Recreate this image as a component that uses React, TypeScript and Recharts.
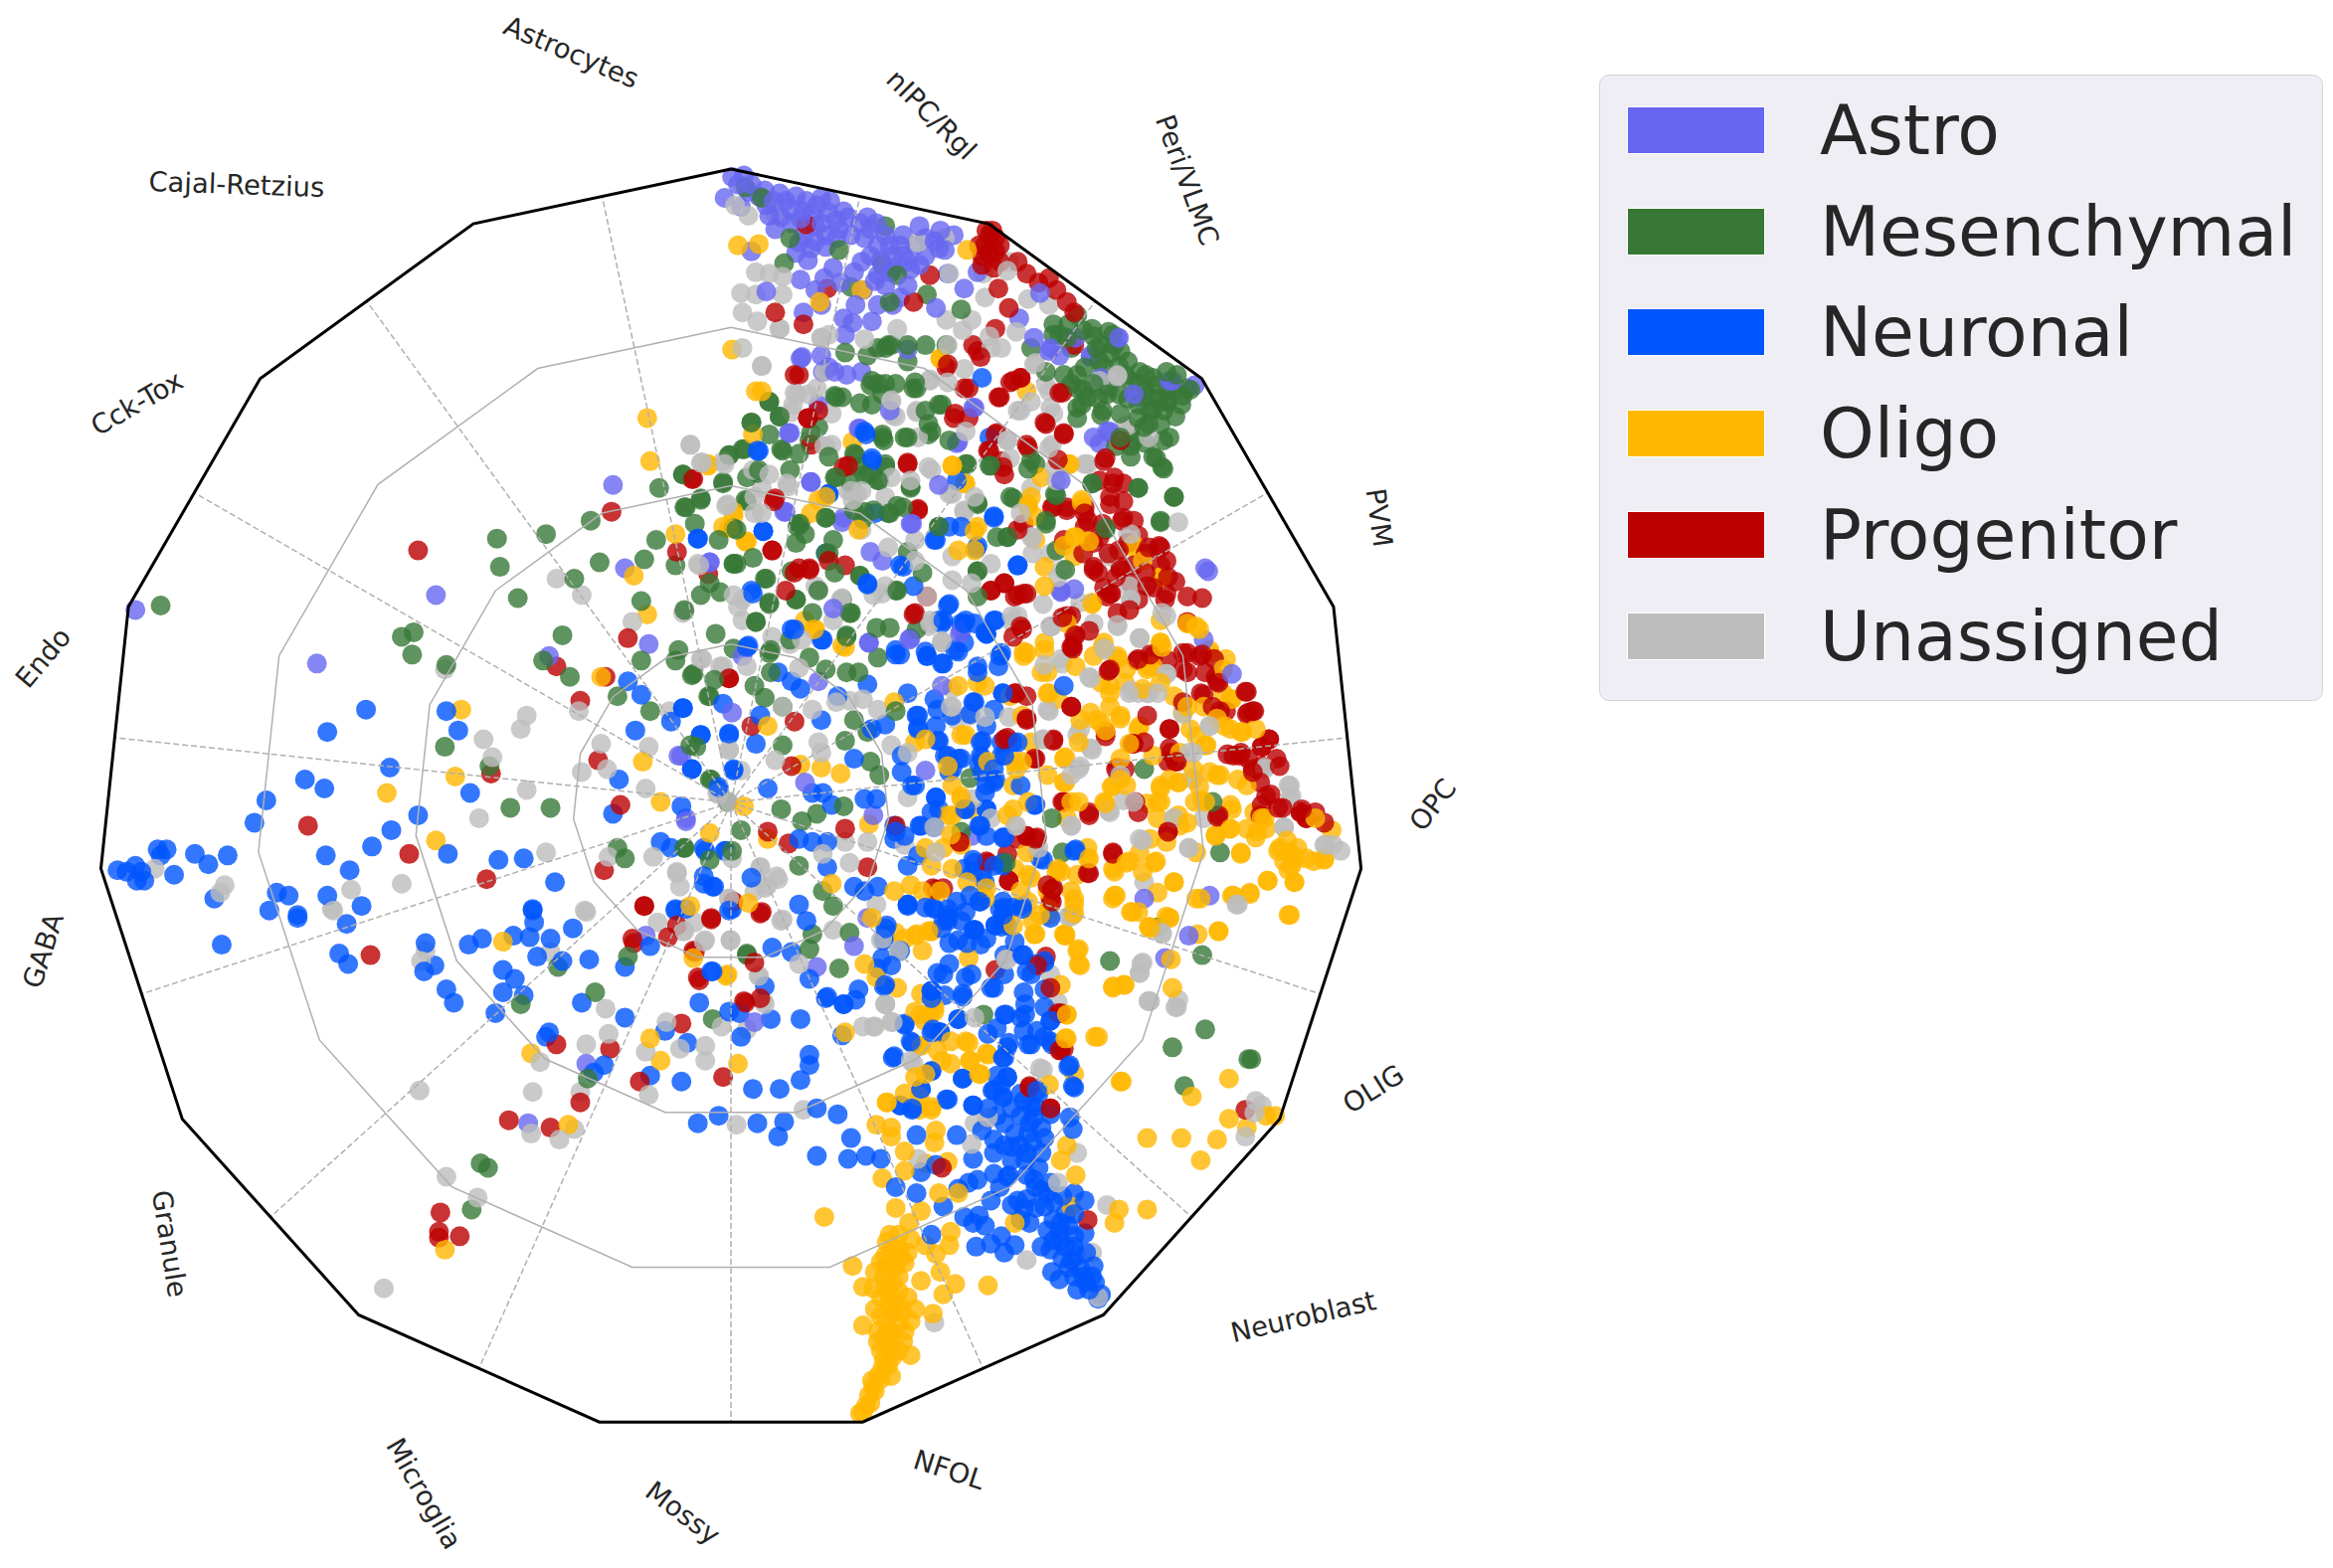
import React from 'react';
import { ScatterChart, Scatter, XAxis, YAxis, Legend } from 'recharts';

const axisNames = ['nIPC/Rgl','Peri/VLMC','PVM','OPC','OLIG','Neuroblast','NFOL','Mossy','Microglia','Granule','GABA','Endo','Cck-Tox','Cajal-Retzius','Astrocytes'];
const labelX = [626,798,927,963,923,876,638,459,285,114,29,29,92,159,384];
const labelY = [77,121,348,541,732,885,988,1017,1004,836,639,442,271,124,35];
const labelTilt = [45,70,82,-52,-32,-13,18,37,60,81,-72,-50,-30,2,23];
const groupNames = ['Astro','Mesenchymal','Neuronal','Oligo','Progenitor','Unassigned'];
const groupColors = ['#6666f0','#377837','#0055ff','#ffb700','#bb0000','#bdbdbd'];

const astro = [91,410,293,400,213,446,412,326,420,382,436,433,369,441,477,378,456,508,461,550,434,629,507,687,394,715,355,755,
812,384,809,430,828,453,713,397,646,424,611,430,584,432,560,409,633,461,550,458,492,479,499,441,458,508,541,526,587,548,622,518,769,604,813,602,799,629,783,644,583,617,574,636,549,650,477,378,722,396,653,562,461,552,
492,119,496,124,487,133,503,129,514,128,524,130,498,139,517,145,521,154,531,140,542,135,549,138,538,147,548,152,557,143,567,142,555,158,545,167,537,163,564,154,583,146,589,150,595,158,581,160,607,158,618,152,632,155,641,158,607,172,622,172,631,167,599,183,612,181,588,189,579,176,610,192,574,183,505,169,515,196,538,188,540,210,554,187,567,214,573,217,586,216,637,184,648,194,657,183,600,205,629,207,685,214,699,197,751,227,733,240,788,256,803,259,705,236,712,239,765,267,746,290,739,298,538,241,552,239,557,247,569,252,610,235,550,272,598,276,577,288,531,291,545,324,643,298,654,274,723,227,527,344,612,352,567,348,810,382];
const astroMore = [539,240,553,250,561,250,579,250,568,225,530,291,578,288,545,324,528,344,566,351,585,371,593,377,613,352,644,297,655,274,631,326,645,426,612,429,584,432,713,398,713,323,744,290,733,239,706,234,695,227,752,227,786,256,740,254,762,265,735,294,
500,118,505,124,510,132,520,135,515,138,528,135,535,132,525,146,532,150,540,142,546,144,552,133,558,135,562,148,552,150,540,158,548,162,555,166,535,170,543,175,562,160,570,146,572,158,578,150,585,154,590,165,598,165,605,165,615,165,622,160,628,162,635,168,600,172,592,175,585,172,600,180,610,176,618,178,590,185,580,195,595,192,605,200,560,180,565,190,548,195,552,205,575,205,590,205];

const mesen = [108,407,334,362,336,381,367,359,397,350,348,402,386,389,403,378,433,376,443,328,441,363,460,341,471,336,467,352,278,425,270,428,277,440,300,447,378,427,365,444,383,455,415,468,431,404,431,444,454,444,465,454,437,478,299,502,329,515,343,543,370,543,415,570,420,577,460,570,454,380,459,319,486,325,490,306,477,524,493,379,468,502,476,468,489,539,
422,643,375,650,350,675,400,667,479,685,502,641,395,725,323,782,328,785,317,813,810,692,788,704,839,712,841,712,796,730,661,682,
657,384,602,397,569,428,572,412,578,387,620,385,535,403,517,405,493,379,514,389,477,392,484,398,471,400,460,410,481,426,508,418,531,430,493,436,517,439,544,442,518,452,555,450,569,452,577,452,590,442,598,422,589,422,616,423,657,401,456,437,466,453,480,457,477,468,507,461,514,469,526,475,602,478,574,484,583,492,568,498,526,501,464,501,478,524,525,544,567,542,549,547,539,552,707,550,652,523,460,570,477,578,498,558,492,572,714,573,769,517,815,539,820,573,676,580,591,521,585,512,537,582,553,599,560,609,571,627,546,628,544,638,502,642,564,651,746,646,779,623,808,642,646,559,
798,261,791,252,784,263,794,272,777,259,770,252,772,267,760,256,782,276,765,281,760,290,786,294,777,308,782,315,765,328,789,334,780,350,724,212,708,218,734,221,745,223,753,236,748,225,720,234,729,247,715,252,739,243,727,272,724,281,741,276,753,278,693,234,703,250,646,208,623,198,603,185,593,178,564,168,531,160,527,177,512,133,501,126,572,193,598,203,597,232,610,232,622,232,636,232,568,237,583,239,595,152,585,259,593,265,562,267,614,261,631,272,517,270,505,284,524,280,490,306,500,302,525,302,509,318,531,316,459,319,486,324,471,335,461,341,502,337,537,352,555,348,544,296,574,305,593,292,610,294,624,292,595,314,581,319,591,323,562,321,572,325,612,328,598,345,574,343,650,312,666,313,693,309,703,350,679,334,696,312,603,340,657,339,631,354,557,372,536,354,483,363,493,355,610,371,638,296,622,276,743,355,710,333,734,325,677,361];
const mesenMore = [595,234,610,243,586,256,595,258,615,257,633,272,626,290,608,294,593,294,590,323,584,319,595,312,577,314,575,306,612,327,607,341,597,345,587,343,555,348,538,352,541,359,535,365,560,363,555,372,532,384,561,385,578,387,535,403,550,397,566,403,571,412,546,412,569,427,603,397,631,354,657,384,670,361,677,361,657,338,681,335,649,312,665,313,691,315,734,325,709,332,703,352,716,383,710,370,743,356,517,270,524,280,505,284,517,292,526,303,537,305,545,291,550,287,561,266,566,267,578,271,586,272,590,258,602,258,616,261,624,285,594,296,561,321,557,307,499,302,501,336,510,316,502,321,506,375,515,389,517,406,508,418,518,437,495,356,495,379,581,344,580,349,
724,252,724,261,731,267,740,279,724,274,744,265,742,247,737,234,749,232,758,243,766,250,775,254,784,250,784,270,773,276,769,287,762,296,753,294,760,307,775,307,765,328,781,314,780,351,789,334,708,225,717,227,590,234,599,232,
800,262,795,266,788,262,778,268,785,270,775,275,770,262,765,258,756,252,752,246,746,238,740,232,735,226,728,222,718,218,712,225,790,280,780,285,772,285,765,272,758,268,752,265,745,260,738,268,735,258,728,262,720,258,770,298,760,300,750,300,782,296];

const neuro = [246,477,220,492,300,478,308,491,262,516,205,524,218,530,179,538,171,553,316,533,281,548,263,558,250,569,301,574,219,575,235,585,335,578,352,577,373,593,422,458,431,467,427,491,451,485,459,476,471,494,465,517,416,524,412,547,458,542,444,566,451,570,473,570,488,572,473,589,479,596,490,493,493,518,483,531,486,473,469,362,
106,571,112,571,108,575,131,574,153,575,140,581,79,585,85,586,91,582,95,586,92,592,97,592,117,588,144,604,186,600,194,602,220,602,243,609,181,612,200,615,358,612,454,612,
149,635,200,617,233,621,228,641,234,648,286,634,292,649,285,653,300,665,305,674,315,635,324,631,345,629,356,630,370,631,361,643,359,620,358,611,385,624,378,646,396,645,420,650,338,652,346,658,338,667,352,669,333,681,391,674,420,684,369,694,367,697,406,716,399,721,437,723,458,727,469,755,483,750,509,755,523,764,527,754,506,732,524,732,437,636,454,611,490,612,447,693,462,701,498,697,470,674,490,680,497,681,518,685,479,653,514,663,
738,873,732,867,724,867,734,858,712,860,707,855,726,853,720,847,735,851,706,840,713,834,700,838,722,831,729,829,704,827,713,822,722,816,729,807,722,802,702,811,704,802,686,820,692,822,684,807,695,793,677,791,668,789,657,793,651,795,666,807,658,817,648,818,654,822,662,824,656,838,666,836,673,831,675,842,682,837,644,799,634,811,626,830,616,802,602,798,619,788,629,783,654,779,592,779,582,777,570,779,549,777,572,765,616,763,643,763,668,766,680,771,689,780,700,775,691,762,700,758,695,751,682,762,675,755,721,759,719,751,563,749,549,745,613,746,605,743,619,732,636,739,654,743,674,738,673,729,668,733,677,724,647,725,626,720,600,711,544,709,544,716,538,726,626,694,632,694,608,689,612,700,566,696,567,675,644,685,675,682,689,682,689,675,706,686,702,697,691,702,677,704,707,702,719,716,721,730,674,711,538,685,555,671,575,672,626,671,647,670,697,733,
629,536,631,544,619,555,628,556,616,481,617,489,631,498,637,508,640,517,646,510,660,498,660,510,675,508,654,472,640,481,652,480,628,470,674,466,663,488,681,499,663,528,660,519,669,524,649,544,663,544,659,555,675,563,663,562,696,541,613,528,606,519,589,537,581,537,574,510,553,533,546,533,559,541,586,490,595,487,583,460,563,468,552,484,532,458,538,463,532,423,552,430,502,435,505,397,523,452,511,481,490,494,471,494,459,476,465,517,483,529,516,530,508,500,493,517,487,572,474,572,473,594,480,596,505,590,537,564,546,566,556,566,574,596,581,599,590,596,556,583,610,609,601,555,601,564,610,582,617,575,654,578,660,588,699,577,722,572,674,580,652,602,659,606,672,611,687,611,675,619,669,622,663,631,646,619,637,611,628,611,654,625,638,634,650,634,659,635,634,619,675,642,687,642,702,646,696,648,690,653,675,655,666,664,649,657,634,655,626,666,693,655,595,629,605,639,593,644,595,662,577,665,567,675,556,670,544,658,478,653,519,637,532,640,537,608,542,619,492,611,461,611,596,622,602,559,608,562,
684,380,634,417,638,406,649,417,663,426,669,417,623,441,644,438,634,446,657,448,672,441,602,440,583,393,607,381,
509,303,581,290,557,332,513,357,469,362,586,308,657,367,668,347,638,354,629,363,555,372,588,345,665,294,660,254,643,323];
const neuroMore = [510,303,557,332,513,357,605,380,684,380,656,369,637,407,631,417,646,419,662,425,668,417,534,423,553,430,503,434,583,392,614,394,582,292,586,310,668,348,646,354,628,363,602,437,622,438,648,432,506,399,
630,477,617,481,629,488,630,498,635,508,644,510,638,519,659,499,659,508,658,514,668,517,673,508,684,499,673,499,668,477,655,472,674,466,668,526,662,533,663,544,658,555,674,563,629,536,626,546,648,544,618,555,615,528,606,508,617,490,686,528,695,541,723,571,701,578,668,582,655,580,654,586,674,582,648,584,662,593,643,606,627,610,636,615,637,619,649,613,658,606,674,606,674,615,680,610,687,609,669,622,655,625,677,622,706,617,610,608,622,610,663,426,633,419,655,419,642,437,623,441,633,446,671,448,657,452,605,440,673,439,648,419,610,466,715,461,
610,608,637,617,633,624,655,625,644,632,675,610,673,623,682,633,688,642,702,647,653,655,638,648,630,654,626,666,635,669,647,668,668,664,688,667,702,665,676,682,686,684,702,677,706,686,697,693,688,693,706,700,693,702,678,701,675,711,664,695,670,691,718,717,722,731,677,724,670,723,667,733,674,737,686,735,698,735,693,744,647,725,637,739,654,743,605,743,613,745,619,732,626,720,601,710,632,694,627,692,608,688,613,701,644,685,594,632,599,649,594,663,590,651,595,624,706,749,
740,870,736,862,730,862,728,858,722,858,718,852,714,846,724,844,730,842,708,834,716,838,722,838,712,828,718,824,708,820,716,816,708,808,714,804,700,800,706,795,696,798,690,806,696,812,688,812,680,810,690,790,698,785,690,775,685,770,694,768,702,765,692,755,686,750,696,744,688,740,680,745,670,750,664,745,660,760,675,770,668,775,680,780,678,790,672,798];

const oligo = [437,310,476,313,426,387,435,413,454,359,404,455,310,477,306,522,260,533,293,565,432,512,444,539,500,542,435,281,493,347,490,355,338,633,357,708,437,698,444,713,496,715,382,756,299,840,466,644,488,656,464,609,503,607,
580,949,585,943,588,935,592,927,599,925,594,914,612,911,590,902,607,902,596,896,580,891,612,888,615,880,588,880,604,877,598,870,580,865,587,866,595,865,588,855,602,851,608,849,595,844,604,840,598,830,612,833,573,851,619,861,632,855,629,843,642,863,634,870,627,883,664,864,622,837,638,837,639,828,602,812,619,814,611,822,631,802,644,802,593,792,608,774,608,787,589,756,599,758,599,764,596,741,608,735,618,746,626,746,629,760,628,768,637,781,622,782,622,722,633,713,618,703,619,682,628,680,639,700,651,701,664,709,658,722,652,713,738,697,754,727,554,818,682,822,713,780,717,770,723,790,720,811,752,813,749,822,771,813,801,737,826,725,771,765,794,765,818,766,807,780,826,752,838,758,857,750,851,750,717,682,717,698,722,722,705,729,568,694,
866,615,870,593,852,592,840,601,828,602,819,626,805,628,807,604,789,593,786,617,772,623,777,579,768,586,750,602,765,613,748,584,759,579,748,663,756,662,788,664,787,645,725,648,725,638,716,628,722,614,722,604,731,577,711,584,717,550,725,539,716,526,716,509,725,499,743,491,737,484,753,481,765,490,759,500,753,510,748,528,743,540,775,508,780,528,778,539,792,548,798,553,817,562,826,557,834,574,845,559,859,572,866,573,872,570,883,579,890,578,868,582,865,565,895,558,884,550,813,519,832,524,820,521,828,544,810,539,844,490,834,492,823,488,804,495,810,501,822,450,828,470,804,421,798,419,813,439,781,435,780,388,780,417,772,448,751,443,741,435,746,461,756,459,768,463,789,468,798,475,734,406,702,437,690,439,704,452,705,466,687,481,693,499,687,512,683,517,681,528,649,494,657,459,646,535,640,548,652,544,622,497,601,472,565,520,552,516,538,514,516,488,547,423,568,435,477,560,516,564,489,655,601,599,584,554,586,617,581,648,602,627,616,628,626,626,620,639,589,657,619,668,632,599,640,584,634,570,646,568,622,570,681,622,696,628,716,629,699,615,705,611,710,586,693,590,690,573,637,515,640,528,681,544,663,597,559,594,792,526,802,517,808,538,848,550,726,484,822,466,723,448,717,419,
496,165,510,164,492,235,512,263,579,195,551,203,650,168,632,241,640,313,649,325,718,312,727,338,731,364,722,361,762,366,693,334,691,341,493,344,486,354,502,364,476,312,655,357,545,345,573,297,555,334,696,363,715,367,506,292,690,263];
const oligoMore = [640,313,648,325,632,241,719,312,727,336,732,364,723,361,762,368,768,377,781,388,734,405,780,432,702,381,702,394,722,374,657,354,691,339,700,321,655,370,644,370,688,438,742,432,548,423,508,263,501,364,550,336,577,356,541,417,566,434,695,347,
740,459,746,466,733,479,740,486,753,483,766,488,715,510,704,521,715,526,704,466,700,452,711,470,735,441,757,450,751,441,780,432,771,450,746,475,793,506,800,490,818,483,827,490,835,492,811,501,818,521,838,528,827,541,843,546,850,550,838,557,827,557,817,561,851,557,844,563,860,570,869,575,878,577,890,577,863,579,870,578,866,585,870,593,852,592,780,539,786,524,792,526,780,530,778,550,793,555,784,566,773,564,803,539,806,529,771,540,757,528,747,529,753,524,742,539,749,586,757,580,776,580,766,573,789,593,778,600,749,602,760,613,786,617,773,624,819,626,804,604,829,602,840,600,867,615,834,573,804,573,720,539,731,570,732,577,724,588,720,599,721,615,715,628,706,608,713,586,704,599,682,512,691,539,682,584,677,548,637,548,646,537,646,494,615,499,644,461,662,461,679,468,688,441,702,432,639,561,650,593,628,599,620,599,626,582,612,595,664,512,608,631,624,626,662,604,691,606,694,619,686,599,691,588,824,443,813,437,798,419,806,423,827,470,809,475,795,479,780,459,775,448,
625,682,615,680,628,677,621,686,630,706,639,715,652,713,649,700,663,708,659,722,619,703,615,724,618,737,596,741,626,744,603,664,615,629,626,626,651,644,716,629,724,639,726,649,722,608,717,682,716,698,736,697,753,727,748,664,755,662,761,613,784,616,773,623,748,604,713,662,705,615,695,628,
578,950,582,945,584,938,587,932,590,925,586,928,593,920,597,918,600,912,592,908,598,905,604,908,594,900,600,896,590,895,596,888,604,890,608,895,592,885,600,882,606,882,598,876,592,872,604,868,610,872,600,862,594,858,604,858,600,850,596,852,606,845,592,848,600,840,610,842,596,835,604,830];

const prog = [281,370,411,344,466,322,455,371,374,448,422,429,407,455,390,471,402,511,330,520,417,541,207,555,275,574,327,591,406,585,433,609,490,456,476,386,
433,609,425,631,426,634,449,630,455,622,478,618,511,614,493,606,249,642,467,640,507,647,470,659,500,673,511,671,374,702,410,705,430,727,486,724,390,741,342,753,370,758,296,815,295,828,295,832,309,831,458,688,
692,730,706,745,713,706,731,820,837,746,633,785,711,681,
798,401,808,402,783,403,790,391,771,394,747,399,735,383,753,383,765,403,798,418,798,439,808,440,816,443,817,455,819,459,798,452,807,466,820,478,837,465,842,478,838,480,786,490,795,472,787,506,790,512,765,443,775,441,746,450,771,481,743,492,762,500,750,517,720,475,720,435,722,427,732,424,744,401,717,414,759,410,825,507,834,506,848,502,853,497,860,515,848,515,842,517,839,510,854,534,859,543,848,541,874,546,878,550,890,553,875,544,819,548,785,559,748,574,732,546,715,539,731,587,708,597,707,606,708,497,696,510,690,484,683,466,687,423,681,428,690,399,666,397,675,392,684,400,614,413,623,401,544,383,534,385,490,456,505,488,532,515,534,485,516,559,530,567,568,557,583,583,645,566,602,555,677,574,675,497,663,579,678,592,696,564,690,562,634,597,629,598,512,613,478,617,466,639,469,657,501,674,765,546,756,517,
665,158,662,165,669,169,660,172,669,160,705,187,684,176,625,185,542,151,556,194,614,203,540,218,537,252,543,281,678,207,671,194,669,221,657,236,717,203,722,232,712,264,686,254,681,256,648,261,671,267,641,281,669,292,665,303,703,285,715,292,691,301,743,308,748,325,739,323,755,337,746,339,729,345,708,341,717,341,741,352,762,350,772,368,754,350,729,354,739,361,617,343,610,312,567,314,465,322,520,337,519,370,636,247,711,309,674,314,779,367,521,210,550,276,557,377];
const progMore = [659,240,654,232,637,245,686,254,679,257,714,264,672,267,642,278,651,281,670,291,702,284,715,291,690,299,664,303,673,310,675,319,742,310,753,296,749,321,755,325,746,334,717,343,707,341,731,350,729,341,755,348,715,363,688,352,684,356,735,381,753,381,780,368,784,399,784,377,721,434,720,414,751,412,746,399,688,399,675,392,666,397,682,401,686,421,544,382,537,382,521,335,519,370,528,397,568,380,543,281,545,299,534,252,617,342,610,311,570,313,651,261,615,412,
721,436,723,427,714,415,745,451,764,444,773,440,785,444,795,439,795,450,806,441,810,452,818,458,809,467,815,475,838,465,843,478,839,479,824,478,720,475,786,490,786,503,791,512,785,512,833,508,848,502,853,497,829,508,858,510,842,519,847,526,851,535,862,543,874,546,878,550,884,546,847,548,785,559,818,549,748,573,732,587,732,548,714,539,763,539,743,495,769,499,761,500,751,516,708,498,695,510,690,483,690,468,682,466,677,496,707,598,706,604,704,595,678,592,697,563,690,562,684,564,645,566,664,580,627,597,
692,731,706,745,712,706,715,705,669,652,697,649,703,643,706,664,713,681,
663,155,667,155,672,165,658,165,665,170,672,176,660,178,668,180,690,184,698,190,710,195,722,210,
735,365,745,372,752,370,758,365,765,360,770,372,762,380,770,385,775,395,760,392,750,388,742,395,738,385,728,372,780,380,785,388];

const unas = [464,299,374,389,391,400,425,418,459,412,470,380,472,311,486,310,488,340,472,443,299,450,354,481,350,490,325,497,331,509,389,478,404,500,436,502,408,517,391,519,354,531,434,530,322,550,367,573,409,576,439,576,270,594,236,598,151,595,148,600,104,584,450,478,490,504,486,448,482,533,455,587,223,611,393,612,490,539,
224,612,394,613,370,640,283,646,286,639,407,678,409,695,394,702,363,714,358,734,390,734,436,736,434,707,448,687,457,705,474,703,474,713,485,690,502,692,514,675,510,656,473,633,491,632,442,620,460,626,467,620,525,619,282,733,495,756,357,762,376,766,386,759,300,791,321,805,258,866,523,591,514,597,457,596,511,583,490,604,
690,847,744,810,628,889,844,740,848,743,837,764,843,748,724,775,734,842,738,872,711,795,655,755,663,753,653,769,617,779,612,713,701,719,599,687,587,690,580,690,595,675,540,746,791,677,772,673,
772,466,765,466,759,466,795,480,813,488,759,394,760,403,781,412,766,429,743,437,784,453,801,523,802,506,850,517,866,528,868,535,863,556,890,568,896,568,901,572,799,570,768,565,789,550,753,521,746,546,762,539,720,555,734,504,725,517,726,490,705,478,701,497,714,446,732,455,707,421,684,414,701,406,714,383,832,608,768,647,766,654,772,673,792,672,790,677,781,627,719,616,683,555,698,570,643,484,652,481,640,475,634,432,625,417,595,394,565,403,550,396,560,417,537,449,531,433,493,400,496,408,460,411,469,379,471,443,484,448,502,448,526,475,546,477,562,472,571,471,580,470,590,477,599,501,610,506,550,499,552,506,521,511,498,518,490,504,483,534,455,586,492,577,511,583,522,589,516,595,507,599,490,604,526,618,491,632,474,632,459,626,553,574,568,566,583,566,571,580,608,568,628,556,589,608,560,625,593,631,604,640,537,648,510,656,513,673,595,675,677,645,
508,183,517,184,498,197,499,210,509,216,524,221,508,198,526,198,503,145,494,138,521,144,499,234,512,246,536,265,526,186,552,227,557,225,554,250,549,261,533,272,464,299,471,311,487,312,512,328,489,339,507,345,530,327,572,330,576,332,599,269,600,279,616,276,625,255,617,163,635,160,638,184,661,184,662,200,636,215,653,215,647,222,683,223,665,226,637,232,603,221,581,228,691,201,678,176,677,182,666,234,696,244,703,259,705,205,751,252,739,256,746,262,758,286,679,308,705,301,708,278,684,276,693,270,705,263,649,290,617,294,555,300,579,330,612,323,626,316,638,332,648,344,655,334,693,361,693,328,710,323,729,312,792,351,772,294,758,359,677,296];
const unasMore = [524,221,512,246,552,227,534,264,543,265,532,277,559,278,554,300,599,270,616,277,602,280,625,256,637,257,648,248,673,234,695,245,686,276,677,296,706,274,707,299,751,253,756,286,740,257,709,314,731,312,686,345,694,361,746,374,760,359,694,372,706,372,711,388,760,403,784,414,751,421,726,405,706,421,680,414,653,392,640,374,666,379,648,343,640,332,624,314,599,321,570,330,573,336,595,334,615,363,597,368,623,401,640,390,625,419,633,432,615,377,579,356,529,325,517,319,507,334,512,345,506,316,548,394,566,402,593,399,587,400,499,403,519,428,539,430,499,417,546,294,559,299,
771,466,778,466,760,464,813,488,784,453,733,456,724,494,733,503,726,515,720,521,704,477,713,443,702,447,706,421,742,436,766,429,735,419,751,420,850,516,867,528,867,537,863,556,891,568,799,506,802,524,789,550,809,550,755,538,745,545,751,521,766,564,799,570,769,593,831,608,781,628,720,555,682,555,697,573,629,573,654,537,610,536,639,475,652,480,662,482,678,482,624,421,633,431,640,463,680,418,701,497,627,556,720,616,666,550,
592,632,604,639,595,675,600,687,588,690,614,715,655,684,676,645,766,654,767,648,773,673,699,718,711,674,706,655,664,751,718,616];

const groups = [astro.concat(astroMore), mesen.concat(mesenMore), neuro.concat(neuroMore), oligo.concat(oligoMore), prog.concat(progMore), unas.concat(unasMore)];

const CX = 491.3, CY = 539.4, R = 425.8, SIDES = 15;

// one table of points; the z-order of the groups is mixed, as the picture's points are
const pointTable = groups
  .flatMap((vals, g) => {
    const out: any[] = [];
    for (let i = 0; i < vals.length; i += 2) {
      out.push({ x: vals[i], y: vals[i + 1], g, order: ((i / 2) * 0.61803 + g * 0.17) % 1 });
    }
    return out;
  })
  .sort((a, b) => a.order - b.order);

const labelTable = axisNames.map((name, i) => ({ x: labelX[i], y: labelY[i], name, tilt: labelTilt[i] }));

const ring = (k: number) => {
  const out: { x: number; y: number }[] = [];
  for (let i = 0; i <= SIDES; i++) {
    const a = (i * 2 * Math.PI) / SIDES;
    out.push({ x: CX + k * R * Math.sin(a), y: CY - k * R * Math.cos(a) });
  }
  return out;
};
const spoke = (i: number) => {
  const a = ((i + 0.5) * 2 * Math.PI) / SIDES;
  const k = R * Math.cos(Math.PI / SIDES);
  return [{ x: CX, y: CY }, { x: CX + k * Math.sin(a), y: CY - k * Math.cos(a) }];
};

const Nothing = () => null;

const Dot = (p: any) => (
  <circle cx={p.cx} cy={p.cy} r={10} fill={groupColors[p.payload.g]} fillOpacity={0.8} />
);

const AxisName = (p: any) => (
  <text
    x={p.cx}
    y={p.cy}
    textAnchor="middle"
    dominantBaseline="central"
    fontFamily="'DejaVu Sans'"
    fontSize={27.4}
    fill="#262626"
    transform={`rotate(${p.payload.tilt} ${p.cx} ${p.cy})`}
  >
    {p.payload.name}
  </text>
);

const LegendBox = () => (
  <div
    style={{
      width: 728,
      height: 630,
      boxSizing: 'border-box',
      background: '#EEEEF4',
      border: '1.5px solid #d4d4d8',
      borderRadius: 10,
      position: 'relative',
    }}
  >
    {groupNames.map((name, i) => (
      <React.Fragment key={name}>
        <div
          style={{
            position: 'absolute',
            left: 27,
            top: 31 + i * 101.7,
            width: 139,
            height: 48,
            background: groupColors[i],
            border: '1px solid #fff',
            boxSizing: 'border-box',
          }}
        />
        <div
          style={{
            position: 'absolute',
            left: 221,
            top: 15 + i * 101.7,
            fontFamily: "'DejaVu Sans'",
            fontSize: 69.6,
            lineHeight: '80px',
            color: '#262626',
            whiteSpace: 'nowrap',
          }}
        >
          {name}
        </div>
      </React.Fragment>
    ))}
  </div>
);

export default function App() {
  return (
    <div style={{ position: 'absolute', left: 0, top: 0, width: 2346, height: 1577, background: '#fff' }}>
      <ScatterChart width={2346} height={1577} margin={{ top: 0, right: 0, bottom: 0, left: 0 }}>
        <XAxis type="number" dataKey="x" domain={[0, 1568]} hide allowDataOverflow />
        <YAxis type="number" dataKey="y" domain={[0, 1054]} reversed hide allowDataOverflow />
        <Scatter data={pointTable} shape={Dot} isAnimationActive={false} />
        {[0, 1, 2, 3, 4, 5, 6, 7, 8, 9, 10, 11, 12, 13, 14].map((i) => (
          <Scatter
            key={`s${i}`}
            data={spoke(i)}
            shape={Nothing}
            line={{ stroke: '#b0b0b0', strokeWidth: 1.5, strokeDasharray: '6 3' }}
            isAnimationActive={false}
          />
        ))}
        {[0.25, 0.5, 0.75].map((k) => (
          <Scatter
            key={`r${k}`}
            data={ring(k)}
            shape={Nothing}
            line={{ stroke: '#b0b0b0', strokeWidth: 1.5 }}
            isAnimationActive={false}
          />
        ))}
        <Scatter
          data={ring(1)}
          shape={Nothing}
          line={{ stroke: '#000', strokeWidth: 3 }}
          isAnimationActive={false}
        />
        <Scatter data={labelTable} shape={AxisName} isAnimationActive={false} />
        <Legend
          layout="vertical"
          align="center"
          verticalAlign="middle"
          wrapperStyle={{ left: 1608, top: 75, width: 728, height: 630, margin: 0 }}
          content={() => <LegendBox />}
        />
      </ScatterChart>
    </div>
  );
}
